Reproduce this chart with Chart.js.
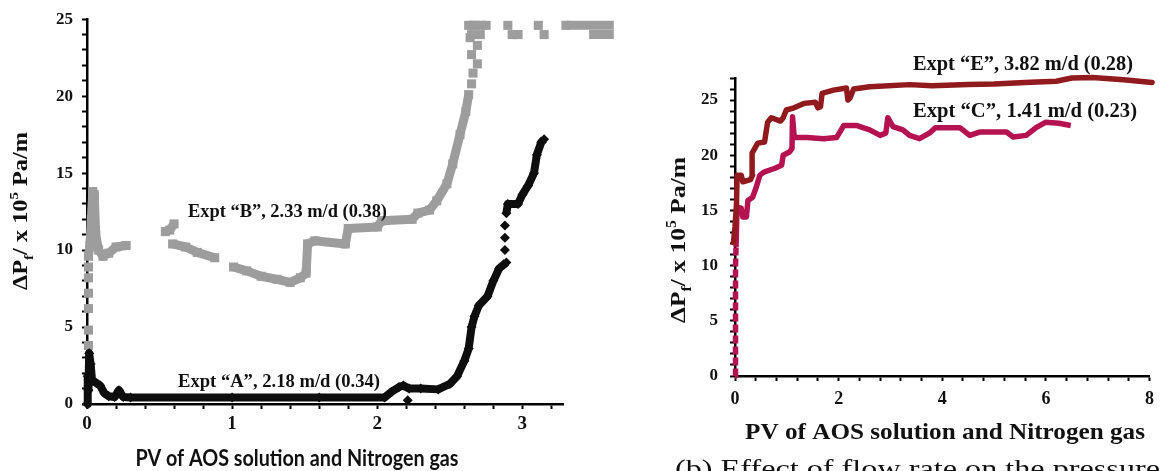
<!DOCTYPE html>
<html><head><meta charset="utf-8">
<script src="https://cdn.jsdelivr.net/npm/chart.js@4.4.1/dist/chart.umd.min.js"></script>
<style>
html,body{margin:0;padding:0;background:#fff;}
#wrap{position:relative;width:1162px;height:471px;overflow:hidden;background:#fff;}
#c1{position:absolute;left:0;top:0;}
#c2{position:absolute;left:640px;top:0;}
</style></head><body>
<div id="wrap">
<canvas id="c1" width="640" height="471" style="width:640px;height:471px"></canvas>
<canvas id="c2" width="522" height="471" style="width:522px;height:471px"></canvas>
</div>
<script>
// ---------- Left panel data (Expt A, Expt B) : null = gap ----------
const exptA_x = [0,0.005,0.01,0.015,0.025,0.035,0.06,0.09,0.12,0.15,0.19,0.22,0.25,0.3,1.0,1.6,2.05,2.1,2.15,2.18,2.22,2.3,2.42,2.5,2.55,2.6,2.63,2.65,2.67,2.7,2.76,2.8,2.84,2.89,null,2.88,null,2.88,null,2.88,null,2.89,2.9,2.97,3.0,3.04,3.08,3.1,3.13,3.15,null,2.21];
const exptA_y = [0,1.8,0.9,3.3,2.6,1.5,1.4,1.2,0.7,0.5,0.45,0.9,0.45,0.42,0.42,0.42,0.42,0.8,1.1,1.2,1.0,1.0,0.95,1.3,1.8,2.8,3.6,5.0,5.7,6.4,7.0,8.0,8.8,9.2,null,10.0,null,10.8,null,11.6,null,12.4,13.0,13.0,13.6,14.2,15.0,16.2,17.0,17.2,null,0.25];
const exptB_x = [0.01,null,0.01,null,0.01,null,0.01,null,0.01,null,0.01,null,0.01,0.02,0.03,0.04,0.05,0.06,0.08,0.11,0.15,0.2,0.27,null,0.54,0.57,0.6,null,0.59,0.68,0.76,0.88,null,1.01,1.1,1.2,1.31,1.4,1.47,1.51,1.52,1.57,1.78,1.8,2.0,2.03,2.24,2.28,2.36,2.41,2.48,2.52,2.57,2.61,2.63,null,2.65,null,2.66,null,2.69,null,2.65,null,2.69,null,2.64,null,2.63,2.68,2.75,null,2.9,null,3.11,null,3.3,3.63,null,2.65,null,2.71,null,2.93,2.97,null,3.15,null,3.34,null,3.46,3.63];
const exptB_y = [3.8,null,4.8,null,6.2,null,7.2,null,8.2,null,8.9,null,9.6,10.3,12.0,13.8,13.6,11.0,10.0,9.6,9.8,10.2,10.3,null,11.2,11.3,11.7,null,10.4,10.2,9.85,9.5,null,8.9,8.65,8.3,8.1,7.9,8.2,8.5,10.4,10.6,10.4,11.4,11.5,11.9,12.0,12.4,12.6,13.2,14.3,15.6,17.5,19.0,20.1,null,20.8,null,21.5,null,22.1,null,22.7,null,23.3,null,23.8,null,24.6,24.6,24.6,null,24.6,null,24.6,null,24.6,24.6,null,24.0,null,24.0,null,24.0,24.0,null,24.0,null,24.0,null,24.0,24.0];
const leftXTicks = [0,1,2,3];
const leftYTicks = [0,5,10,15,20,25];

// ---------- Right panel data (Expt E, Expt C) ----------
const exptE_x = [-0.03,0.0,0.03,0.04,0.12,0.15,0.3,0.34,0.33,0.44,0.57,0.63,0.7,0.88,0.93,0.99,1.14,1.33,1.55,1.6,1.65,1.68,1.9,2.15,2.18,2.22,2.29,2.6,3.37,3.8,4.5,5.0,5.6,6.2,6.5,6.9,7.5,8.05];
const exptE_y = [12.1,13.5,15.7,18.2,18.2,17.6,17.8,18.2,20.2,21.1,21.2,23.0,23.4,23.1,23.4,24.1,24.3,24.7,24.8,24.3,24.4,25.6,25.9,26.1,25.0,25.2,26.0,26.2,26.4,26.3,26.4,26.45,26.6,26.7,27.0,27.05,26.85,26.6];
const exptC_x = [0.0,0.005,0.01,0.01,0.015,0.02,0.04,0.12,0.15,0.22,0.25,0.34,0.41,0.48,0.57,0.76,0.9,0.93,1.05,1.1,1.11,1.14,1.17,1.39,1.71,1.96,2.1,2.34,2.6,2.8,2.91,2.95,3.05,3.24,3.37,3.56,3.75,3.87,4.34,4.53,4.72,5.24,5.37,5.62,5.81,6.0,6.25,6.48];
const exptC_y = [0,2.5,5,8,10,11.7,15.3,15.2,14.4,14.4,15.9,16.2,17.1,18.2,18.5,18.8,19.1,20.0,20.3,20.6,23.5,21.8,21.6,21.6,21.5,21.6,22.7,22.7,22.3,21.8,22.0,23.4,22.6,22.3,21.8,21.5,22.0,22.5,22.5,21.8,22.1,22.1,21.65,21.8,22.5,23.0,22.9,22.7];
const rightXTicks = [0,2,4,6,8];
const rightYTicks = [0,5,10,15,20,25];

// ---------- helpers ----------
function toPoints(xs, ys) {
  const out = []; let lastX = xs.find(v => v != null);
  for (let i = 0; i < xs.length; i++) {
    if (ys[i] == null || xs[i] == null) out.push({x: lastX, y: null});
    else { out.push({x: xs[i], y: ys[i]}); lastX = xs[i]; }
  }
  return out;
}
const isIn = (arr, v) => arr.some(t => Math.abs(t - v) < 1e-6);
const isStep = (v, s) => Math.abs(v / s - Math.round(v / s)) < 1e-6;
const SERIF = '"Liberation Serif", "Times New Roman", serif';

function drawFitted(ctx, text, o) {
  ctx.save();
  ctx.font = `${o.weight} ${o.size}px ${o.family}`;
  const w = ctx.measureText(text).width;
  const sx = o.width / w;
  const left = o.align === 'center' ? o.x - o.width / 2 : o.x;
  ctx.translate(left, o.y);
  ctx.scale(sx, 1);
  ctx.textAlign = 'left'; ctx.textBaseline = 'alphabetic';
  ctx.fillStyle = o.color || '#111';
  ctx.fillText(text, 0, 0);
  ctx.restore();
}
function drawYTitle(ctx, baseX, centerY, length, size) {
  const parts = [
    {t: 'ΔP', s: 1, dy: 0},
    {t: 'f', s: 0.62, dy: 0.28},
    {t: '/ x 10', s: 1, dy: 0},
    {t: '5', s: 0.62, dy: -0.42},
    {t: ' Pa/m', s: 1, dy: 0}
  ];
  ctx.save();
  let total = 0;
  for (const p of parts) { ctx.font = `bold ${size * p.s}px ${SERIF}`; p.w = ctx.measureText(p.t).width; total += p.w; }
  const k = length / total;
  ctx.translate(baseX, centerY);
  ctx.rotate(-Math.PI / 2);
  ctx.scale(k, 1);
  ctx.fillStyle = '#111'; ctx.textBaseline = 'alphabetic'; ctx.textAlign = 'left';
  let x = -total / 2;
  for (const p of parts) {
    ctx.font = `bold ${size * p.s}px ${SERIF}`;
    ctx.fillText(p.t, x, p.dy * size);
    x += p.w;
  }
  ctx.restore();
}
function axisCfg(opts) {
  return {
    type: 'linear', min: opts.min, max: opts.max,
    afterFit: s => { if (opts.w != null) s.width = opts.w; if (opts.h != null) s.height = opts.h; },
    ticks: {
      stepSize: opts.step, includeBounds: false, autoSkip: false, maxRotation: 0, minRotation: 0,
      padding: opts.pad, color: '#111',
      font: {family: SERIF, weight: 'bold', size: opts.font},
      callback: v => isStep(v, opts.step) ? (isIn(opts.labels, v) ? String(Math.round(v)) : '') : null
    },
    grid: {display: true, drawOnChartArea: false, drawTicks: true, tickLength: 5, tickWidth: 2, tickColor: '#000'},
    border: {display: true, color: '#000', width: 2.5}
  };
}

// ---------- Left chart ----------
new Chart(document.getElementById('c1'), {
  type: 'scatter',
  data: { datasets: [
    { label: 'Expt A', data: toPoints(exptA_x, exptA_y), showLine: true, spanGaps: false, clip: false,
      borderColor: '#0e0e0e', backgroundColor: '#0e0e0e', borderWidth: 8, tension: 0,
      borderJoinStyle: 'round', pointStyle: 'rectRot', pointRadius: 5, pointBorderWidth: 0,
      pointBackgroundColor: '#0e0e0e' },
    { label: 'Expt B', data: toPoints(exptB_x, exptB_y), showLine: true, spanGaps: false, clip: false,
      borderColor: '#9d9d9d', backgroundColor: '#9d9d9d', borderWidth: 9, tension: 0,
      borderJoinStyle: 'round', pointStyle: 'rect', pointRadius: 6.4, pointBorderWidth: 0,
      pointBackgroundColor: '#9d9d9d' }
  ]},
  options: {
    responsive: false, animation: false, devicePixelRatio: 1,
    layout: { padding: {left: 0, right: 77, top: 16.5, bottom: 0} },
    plugins: { legend: {display: false}, tooltip: {enabled: false} },
    scales: {
      x: axisCfg({min: 0, max: 3.28, step: 0.2, labels: leftXTicks, pad: 4, font: 19, h: 67}),
      y: axisCfg({min: 0, max: 25, step: 1, labels: leftYTicks, pad: 9, font: 17, w: 87})
    }
  },
  plugins: [{
    id: 'leftText',
    afterDraw(chart) {
      const ctx = chart.ctx;
      drawFitted(ctx, 'Expt “B”, 2.33 m/d (0.38)', {x: 188, y: 217, size: 18, weight: 'bold', family: SERIF, width: 199});
      drawFitted(ctx, 'Expt “A”, 2.18 m/d (0.34)', {x: 178, y: 387, size: 18, weight: 'bold', family: SERIF, width: 202});
      drawFitted(ctx, 'PV of AOS solution and Nitrogen gas', {x: 297, y: 466, size: 22, weight: 'bold', family: 'Lato, "Open Sans", sans-serif', width: 323, align: 'center'});
      drawYTitle(ctx, 27, 211, 158, 21);
    }
  }]
});

// ---------- Right chart ----------
new Chart(document.getElementById('c2'), {
  type: 'scatter',
  data: { datasets: [
    { label: 'Expt E', data: toPoints(exptE_x, exptE_y), showLine: true, clip: false,
      borderColor: '#911a1e', borderWidth: 5.5, tension: 0, pointRadius: 0,
      borderJoinStyle: 'round', borderCapStyle: 'round' },
    { label: 'Expt C', data: toPoints(exptC_x, exptC_y), showLine: true, clip: false,
      borderColor: '#b41250', borderWidth: 5.5, tension: 0, pointRadius: 0,
      borderJoinStyle: 'round',
      segment: { borderDash: c => (c.p1DataIndex <= 5 ? [8, 3] : undefined) } }
  ]},
  options: {
    responsive: false, animation: false, devicePixelRatio: 1,
    layout: { padding: {left: 0, right: 7, top: 78, bottom: 0} },
    plugins: { legend: {display: false}, tooltip: {enabled: false} },
    scales: {
      x: axisCfg({min: 0, max: 8, step: 0.4, labels: rightXTicks, pad: 8, font: 18, h: 95}),
      y: axisCfg({min: 0, max: 27, step: 1, labels: rightYTicks, pad: 12, font: 17, w: 95})
    }
  },
  plugins: [{
    id: 'rightText',
    afterDraw(chart) {
      const ctx = chart.ctx;
      drawFitted(ctx, 'Expt “E”, 3.82 m/d (0.28)', {x: 273, y: 70, size: 20, weight: 'bold', family: SERIF, width: 220});
      drawFitted(ctx, 'Expt “C”, 1.41 m/d (0.23)', {x: 273, y: 117, size: 20, weight: 'bold', family: SERIF, width: 224});
      drawFitted(ctx, 'PV of AOS solution and Nitrogen gas', {x: 305, y: 439, size: 24, weight: 'bold', family: SERIF, width: 400, align: 'center'});
      drawFitted(ctx, '(b) Effect of flow rate on the pressure', {x: 35, y: 477, size: 26, weight: 'normal', family: SERIF, width: 485});
      drawYTitle(ctx, 45, 240, 166, 22);
    }
  }]
});
</script>
</body></html>
